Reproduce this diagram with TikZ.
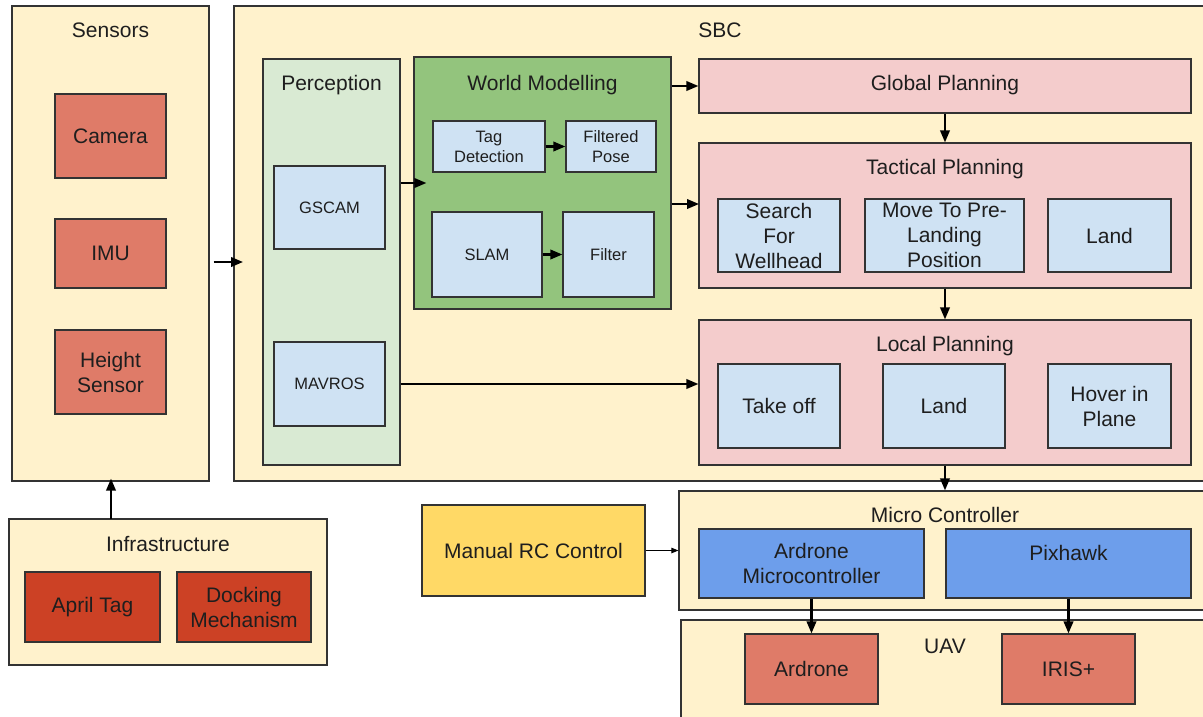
\documentclass[tikz,border=0pt]{standalone}
\usepackage{fontspec}
\setmainfont{Liberation Sans}
\usetikzlibrary{arrows.meta}

\definecolor{linec}{HTML}{333333}
\definecolor{txt}{HTML}{1E1E1E}
\definecolor{cream}{HTML}{FFF2CC}
\definecolor{salmon}{HTML}{DF7B68}
\definecolor{brick}{HTML}{CC4125}
\definecolor{mint}{HTML}{D9EAD3}
\definecolor{leaf}{HTML}{93C47D}
\definecolor{sky}{HTML}{CFE2F3}
\definecolor{rose}{HTML}{F4CCCC}
\definecolor{cobalt}{HTML}{6D9EEB}
\definecolor{gold}{HTML}{FFD966}

\begin{document}
\begin{tikzpicture}[x=1pt,y=-1pt,
  box/.style={draw=linec, line width=1.2pt, inner sep=0pt, align=center,
    text=txt, font=\fontsize{21}{25}\selectfont},
  small/.style={font=\fontsize{16.5}{20}\selectfont},
  group/.style={box, fill=cream},
  title/.style={text=txt, font=\fontsize{21}{25}\selectfont, inner sep=0pt, anchor=base},
  arr/.style={draw=black, line width=2.1pt, -{Triangle[length=12pt,width=9.5pt]}},
  thinarr/.style={draw=black, line width=1pt, -{Triangle[length=7pt,width=5.5pt]}}
]
\useasboundingbox (0,0) rectangle (1203,716);
\fill[white] (0,0) rectangle (1203,716);

% ---- Sensors ----
\node[group, minimum width=197, minimum height=475] (sensors) at (110.5,243.5) {};
\node[title] (sensorsT) at (110.5,37) {Sensors};
\node[box, fill=salmon, minimum width=111, minimum height=84] (camera) at (110.5,136) {Camera};
\node[box, fill=salmon, minimum width=111, minimum height=69] (imu) at (110.5,253.5) {IMU};
\node[box, fill=salmon, minimum width=111, minimum height=84] (height) at (110.5,372) {Height\\Sensor};

% ---- SBC ----
\node[group, minimum width=972, minimum height=475] (sbc) at (720,243.5) {};
\node[title] (sbcT) at (720,37) {SBC};

% Perception
\node[box, fill=mint, minimum width=137, minimum height=406] (perc) at (331.5,262) {};
\node[title] (percT) at (331.5,90) {Perception};
\node[box, small, fill=sky, minimum width=111, minimum height=83] (gscam) at (329.5,207.5) {GSCAM};
\node[box, small, fill=sky, minimum width=111, minimum height=84] (mavros) at (329.5,384) {MAVROS};

% World modelling
\node[box, fill=leaf, minimum width=257, minimum height=252] (wm) at (542.5,183) {};
\node[title] (wmT) at (542.5,90) {World Modelling};
\node[box, small, fill=sky, minimum width=112, minimum height=51] (tag) at (489,146.5) {Tag\\Detection};
\node[box, small, fill=sky, minimum width=90, minimum height=51] (fpose) at (611,146.5) {Filtered\\Pose};
\node[box, small, fill=sky, minimum width=110, minimum height=85] (slam) at (487,254.5) {SLAM};
\node[box, small, fill=sky, minimum width=91, minimum height=85] (filter) at (608.5,254.5) {Filter};

% Planning layers
\node[box, fill=rose, minimum width=492, minimum height=54] (global) at (945,86) {};
\node[title] (globalT) at (945,90) {Global Planning};

\node[box, fill=rose, minimum width=492, minimum height=145] (tact) at (945,215.5) {};
\node[title] (tactT) at (945,174) {Tactical Planning};
\node[box, fill=sky, minimum width=122, minimum height=73] (search) at (779,235.5) {Search\\For\\Wellhead};
\node[box, fill=sky, minimum width=159, minimum height=73] (move) at (944.5,235.5) {Move To Pre-\\Landing\\Position};
\node[box, fill=sky, minimum width=123, minimum height=73] (landA) at (1109.5,235.5) {Land};

\node[box, fill=rose, minimum width=492, minimum height=145] (local) at (945,392.5) {};
\node[title] (localT) at (945,351) {Local Planning};
\node[box, fill=sky, minimum width=122, minimum height=84] (takeoff) at (779,406) {Take off};
\node[box, fill=sky, minimum width=122, minimum height=84] (landB) at (944,406) {Land};
\node[box, fill=sky, minimum width=123, minimum height=84] (hover) at (1109.5,406) {Hover in\\Plane};

% ---- Micro controller ----
\node[group, minimum width=527, minimum height=119] (micro) at (942.5,550.5) {};
\node[title] (microT) at (945,522) {Micro Controller};
\node[box, fill=cobalt, minimum width=225, minimum height=69] (ardmc) at (811.5,563.5) {Ardrone\\Microcontroller};
\node[box, fill=cobalt, minimum width=245, minimum height=69] (pix) at (1068.5,563.5) {};
\node[title] (pixT) at (1068.5,560) {Pixhawk};

% ---- UAV ----
\node[group, minimum width=525, minimum height=100] (uav) at (943.5,670) {};
\node[title] (uavT) at (945,653) {UAV};
\node[box, fill=salmon, minimum width=133, minimum height=70] (ardrone) at (811.5,669) {Ardrone};
\node[box, fill=salmon, minimum width=133, minimum height=70] (iris) at (1068.5,669) {IRIS+};

% ---- Manual control ----
\node[box, fill=gold, minimum width=223, minimum height=91] (rc) at (533.5,550.5) {Manual RC Control};

% ---- Infrastructure ----
\node[group, minimum width=318, minimum height=146] (infra) at (168,592) {};
\node[title] (infraT) at (168,551) {Infrastructure};
\node[box, fill=brick, minimum width=135, minimum height=70] (april) at (92.5,607) {April Tag};
\node[box, fill=brick, minimum width=134, minimum height=70] (dock) at (244,607) {Docking\\Mechanism};

% ---- Connectors ----
\coordinate (sbcIn) at (243,262);
\draw[arr] ([xshift=4pt]sensors.east |- sbcIn) -- (sbcIn);
\draw[arr] (perc.east |- wm.west) -- ([xshift=13pt]wm.west);
\draw[arr] (tag) -- (fpose);
\draw[arr] (slam) -- (filter);
\draw[arr] (wm.east |- global.west) -- (global.west);
\coordinate (tactIn) at (699,204);
\draw[arr] (wm.east |- tactIn) -- (tactIn);
\draw[arr] (global) -- (tact);
\draw[arr] (tact) -- (local);
\draw[arr] (perc.east |- mavros.east) -- (local.west |- mavros.east);
\draw[arr] (local.south) -- (local.south |- micro.north);
\draw[arr] (ardmc) -- (ardrone);
\draw[arr] (pix) -- (iris);
\draw[thinarr] (rc.east) -- (micro.west |- rc.east);
\coordinate (infraOut) at (111,519);
\draw[arr] (infraOut) -- ([yshift=3pt]sensors.south -| infraOut);
\end{tikzpicture}
\end{document}
